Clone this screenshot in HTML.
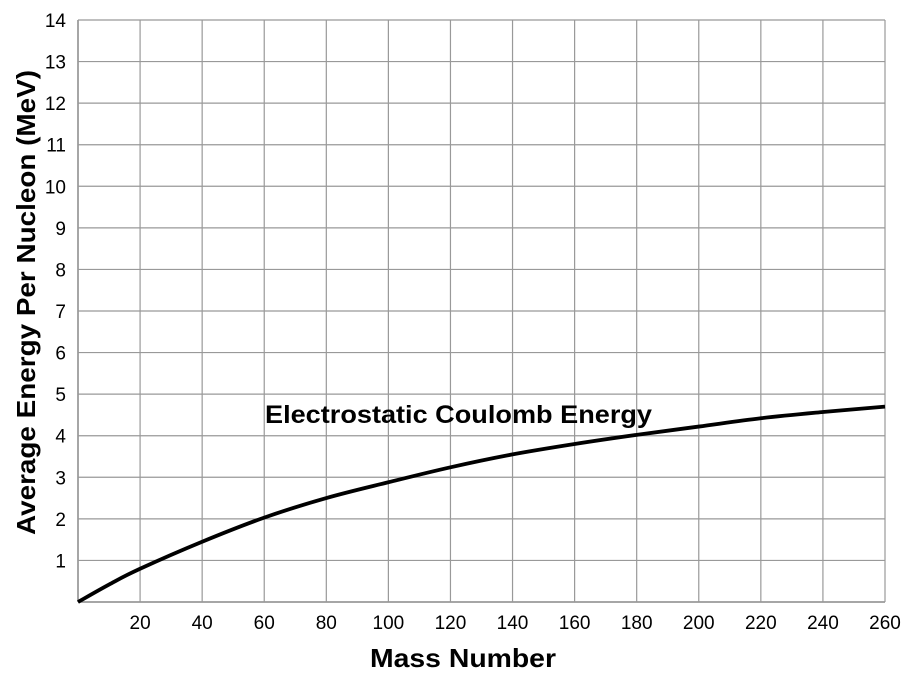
<!DOCTYPE html>
<html><head><meta charset="utf-8"><style>
body{margin:0;background:#fff;}
svg{display:block;font-family:"Liberation Sans",Arial,sans-serif;}
</style></head><body>
<svg id="chart" width="918" height="676">
<g id="grid"></g>
<g id="xticks"></g>
<g id="yticks"></g>
<path id="curve" fill="none" stroke="#000" stroke-width="3.8"/>
<text x="265" y="423" font-size="25" font-weight="bold" textLength="387" lengthAdjust="spacingAndGlyphs">Electrostatic Coulomb Energy</text>
<text x="370" y="667" font-size="26" font-weight="bold" textLength="186" lengthAdjust="spacingAndGlyphs">Mass Number</text>
<text transform="translate(35,535) rotate(-90)" font-size="26" font-weight="bold" textLength="465" lengthAdjust="spacingAndGlyphs">Average Energy Per Nucleon (MeV)</text>
</svg>
<script>
const xTickValues=[20,40,60,80,100,120,140,160,180,200,220,240,260];
const yTickValues=[1,2,3,4,5,6,7,8,9,10,11,12,13,14];
const massNumbers=[0,10,20,40,60,80,100,120,140,160,180,200,220,240,260];
const energies=[0,0.42,0.8,1.45,2.03,2.5,2.88,3.24,3.55,3.8,4.02,4.22,4.42,4.57,4.7];
const X0=78,X1=885,Y0=602,Y1=20;
const sx=v=>X0+(X1-X0)*v/260;
const sy=v=>Y0-(Y0-Y1)*v/14;
const NS="http://www.w3.org/2000/svg";
const grid=document.getElementById('grid'),xt=document.getElementById('xticks'),yt=document.getElementById('yticks');
function line(g,x1,y1,x2,y2,c,w){const l=document.createElementNS(NS,'line');l.setAttribute('x1',x1);l.setAttribute('y1',y1);l.setAttribute('x2',x2);l.setAttribute('y2',y2);l.setAttribute('stroke',c);l.setAttribute('stroke-width',w);g.appendChild(l);return l;}
const b=line(grid,sx(0),sy(0),sx(0),sy(14),'#888',1.5);


const b2=line(grid,sx(0),sy(0),sx(260),sy(0),'#888',1.5);


xTickValues.forEach(v=>{
 const l=line(grid,sx(v),sy(0),sx(v),sy(14),'#999',1.2);
 
 
 const t=document.createElementNS(NS,'text');t.setAttribute('x',sx(v));t.setAttribute('y',629);t.setAttribute('font-size','19');t.setAttribute('text-anchor','middle');t.textContent=v;
 
 
 xt.appendChild(t);
});
yTickValues.forEach(v=>{
 const l=line(grid,sx(0),sy(v),sx(260),sy(v),'#999',1.2);
 
 
 const t=document.createElementNS(NS,'text');t.setAttribute('x',66);t.setAttribute('y',sy(v)+7);t.setAttribute('font-size','19');t.setAttribute('text-anchor','end');t.textContent=v;
 
 
 yt.appendChild(t);
});
const pts=massNumbers.map((m,i)=>[sx(m),sy(energies[i])]);
let d='M'+pts[0][0]+','+pts[0][1];
for(let i=0;i<pts.length-1;i++){
 const p0=pts[i-1]||pts[i],p1=pts[i],p2=pts[i+1],p3=pts[i+2]||p2;
 d+=' C'+(p1[0]+(p2[0]-p0[0])/6)+','+(p1[1]+(p2[1]-p0[1])/6)+' '+(p2[0]-(p3[0]-p1[0])/6)+','+(p2[1]-(p3[1]-p1[1])/6)+' '+p2[0]+','+p2[1];
}
document.getElementById('curve').setAttribute('d',d);
</script>
</body></html>
